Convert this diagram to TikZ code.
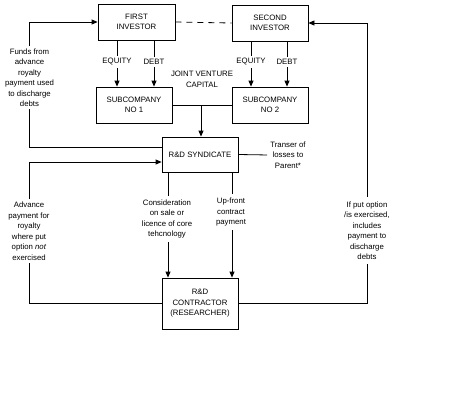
\documentclass[tikz,border=0pt]{standalone}
\usepackage{fontspec}
\newfontfamily\dfont{Liberation Sans}
\usetikzlibrary{arrows.meta}
\begin{document}
\begin{tikzpicture}[x=1pt,y=-1pt,
  every node/.style={font=\dfont\fontsize{7.8}{10.5}\selectfont},
  box/.style={draw, line width=0.8pt, minimum width=76pt, minimum height=36pt, align=center, inner sep=1pt},
  lab/.style={fill=white, align=center, inner sep=2.5pt},
  txt/.style={align=center, inner sep=1pt},
  ln/.style={line width=0.8pt},
  arr/.style={line width=0.8pt, -{Triangle[width=5pt,length=6pt]}}]
\useasboundingbox[fill=white] (0,0) rectangle (450,400);
% boxes
\node[box, minimum width=77pt] (first) at (136.5,22) {FIRST\\INVESTOR};
\node[box] (second) at (270,23) {SECOND\\INVESTOR};
\node[box] (sub1) at (134,105) {SUBCOMPANY\\NO 1};
\node[box] (sub2) at (270,105) {SUBCOMPANY\\NO 2};
\node[box, minimum height=35pt] (synd) at (200,154.5) {R\&D SYNDICATE};
\node[box, minimum height=51pt] (contr) at (200,303.5) {R\&D\\CONTRACTOR\\(RESEARCHER)};
% investor link
\draw[ln, dash pattern=on 6pt off 5pt] (first.east) -- (second.west);
% equity / debt
\coordinate (e1) at (117,0); \coordinate (d1) at (154,0);
\coordinate (e2) at (251,0); \coordinate (d2) at (287,0);
\draw[arr] (first.south -| e1) -- (sub1.north -| e1);
\draw[arr] (first.south -| d1) -- (sub1.north -| d1);
\draw[arr] (second.south -| e2) -- (sub2.north -| e2);
\draw[arr] (second.south -| d2) -- (sub2.north -| d2);
\node[lab] (le1) at (117,62) {EQUITY};
\node[lab] (ld1) at (154,62) {DEBT};
\node[lab] (le2) at (251,62) {EQUITY};
\node[lab] (ld2) at (287,62) {DEBT};
% joint venture capital
\draw[ln] (sub1.east) -- (sub2.west);
\coordinate (jv) at (201,105);
\draw[arr] (jv) -- (jv |- synd.north);
\node[txt] (jvc) at (202,79.5) {JOINT VENTURE\\CAPITAL};
% transfer of losses
\node[txt] (loss) at (288,155) {Transer of\\losses to\\Parent*};
\draw[ln, shorten >=2pt] (synd.east) -- (loss.west);
% left loop
\coordinate (lx) at (29,0);
\coordinate (s1) at (0,147);
\coordinate (s2) at (0,162);
\draw[arr] (synd.west |- s1) -- (lx |- s1) -- (lx |- first.west) -- (first.west);
\draw[arr] (contr.west) -- (lx |- contr.west) -- (lx |- s2) -- (synd.west |- s2);
\node[lab] (funds) at (29.5,77.5) {Funds from\\advance\\royalty\\payment used\\to discharge\\debts};
\node[lab] (adv) at (29,231) {Advance\\payment for\\royalty\\where put\\option \textit{not}\\exercised};
% syndicate to contractor
\coordinate (cx) at (168,0); \coordinate (ux) at (232,0);
\draw[arr] (synd.south -| cx) -- (contr.north -| cx);
\draw[arr] (synd.south -| ux) -- (contr.north -| ux);
\node[lab, inner sep=4pt] (cons) at (167,219) {Consideration\\on sale or\\licence of core\\tehcnology};
\node[lab, inner sep=4pt] (upf) at (231,212) {Up-front\\contract\\payment};
% right loop
\coordinate (rx) at (367,0);
\draw[arr] (contr.east) -- (rx |- contr.east) -- (rx |- second.east) -- (second.east);
\node[lab, inner sep=4pt] (put) at (367,230.5) {If put option\\/is exercised,\\includes\\payment to\\discharge\\debts};
\end{tikzpicture}
\end{document}
